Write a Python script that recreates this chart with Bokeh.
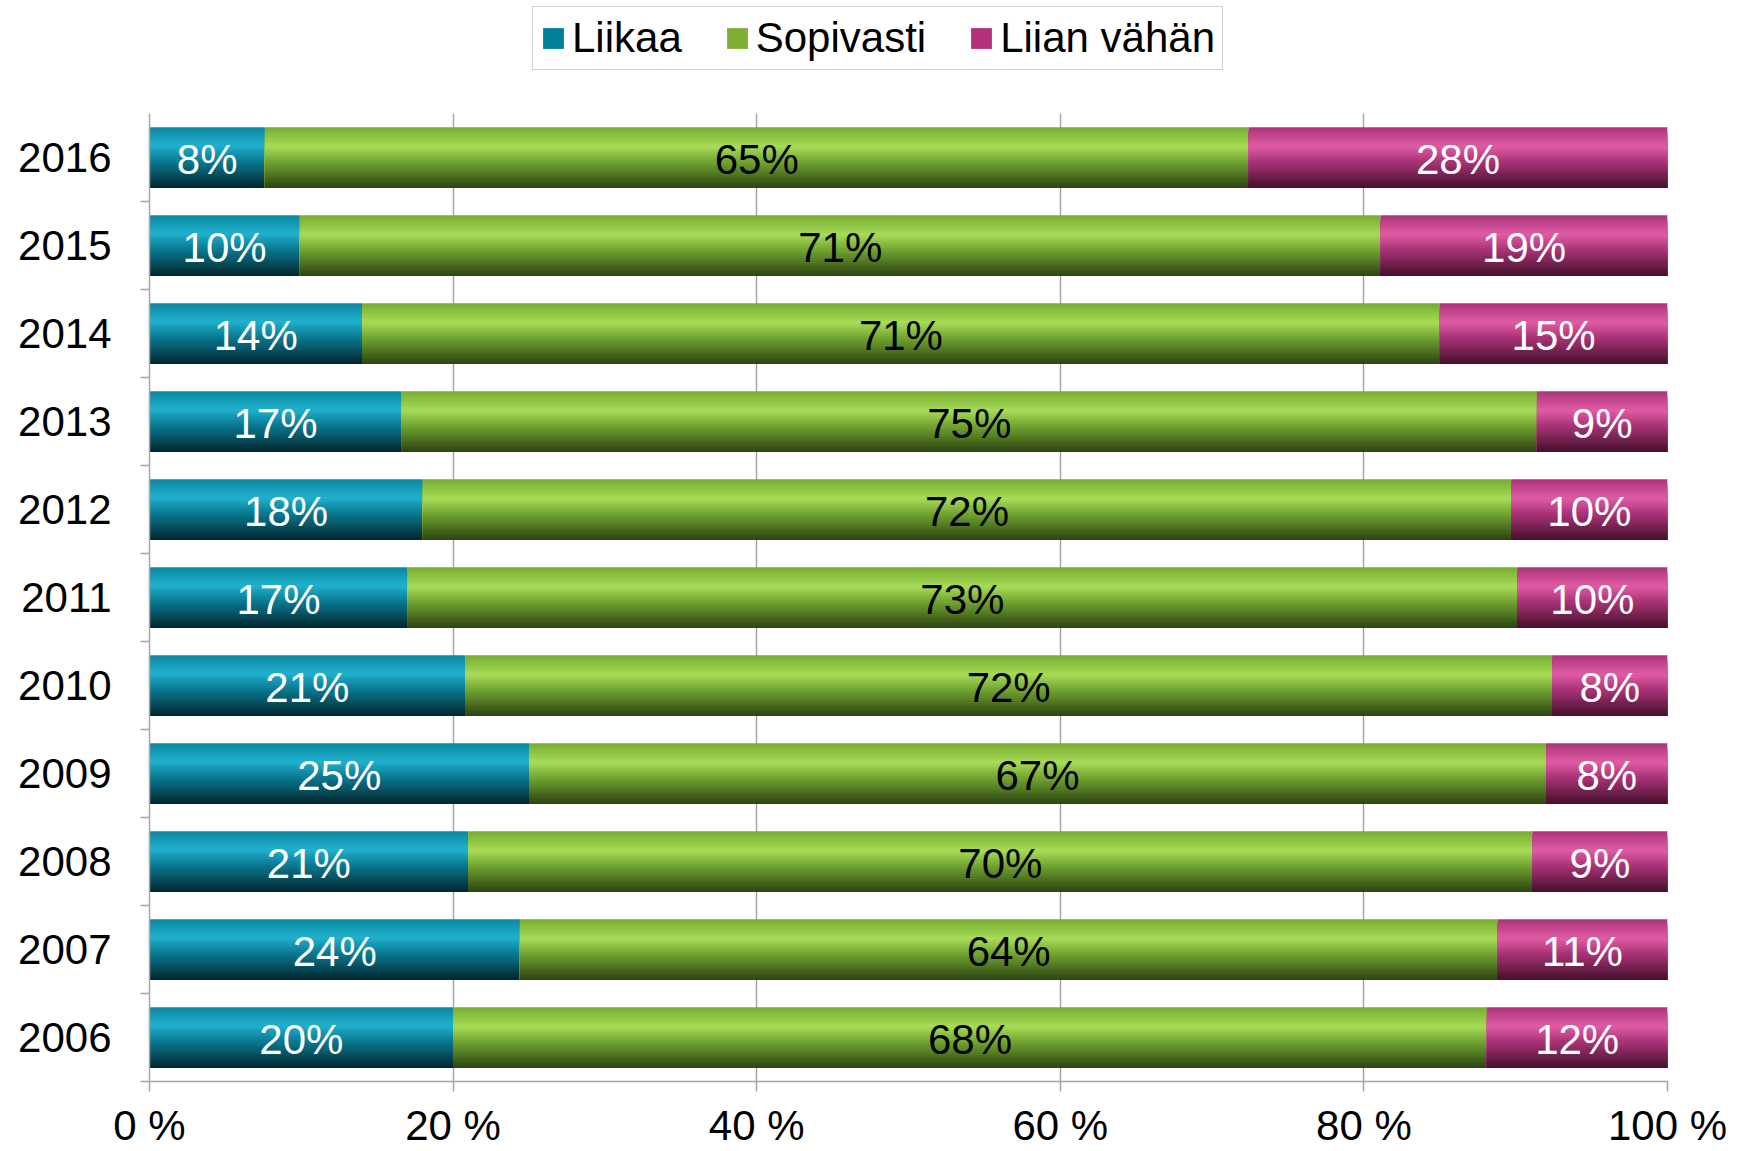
import numpy as np
import pandas as pd
from bokeh.plotting import figure
from bokeh.layouts import column
from bokeh.models import (ColumnDataSource, Range1d, FixedTicker, Legend, LegendItem)
from bokeh.transform import dodge
from bokeh.core.properties import value
from bokeh.embed import file_html
from bokeh.resources import INLINE

# ---- data ----
years = [2016, 2015, 2014, 2013, 2012, 2011, 2010, 2009, 2008, 2007, 2006]
liikaa = [7.6, 9.9, 14.0, 16.6, 18.0, 17.0, 20.8, 25.0, 21.0, 24.4, 20.0]
sopivasti = [64.8, 71.2, 71.0, 74.8, 71.7, 73.1, 71.6, 67.0, 70.1, 64.4, 68.1]
liian_vahan = [27.6, 18.9, 15.0, 8.6, 10.3, 9.9, 7.6, 8.0, 8.9, 11.2, 11.9]
series_names = ["Liikaa", "Sopivasti", "Liian vähän"]
x_ticks = [0, 20, 40, 60, 80, 100]
x_tick_labels = ["0 %", "20 %", "40 %", "60 %", "80 %", "100 %"]

FONT = "Liberation Sans"
FS = "42px"

legend_colors = ["#00819B", "#7EAE33", "#B3307A"]
label_colors = ["white", "black", "white"]
# gradient stops (fraction from top, colour)
gradients = [
    [(0.0, "#0C86A0"), (0.30, "#20B2CF"), (0.55, "#0B7C94"), (1.0, "#03252D")],
    [(0.0, "#77AB31"), (0.32, "#A7DB58"), (0.55, "#76A932"), (1.0, "#2C4310")],
    [(0.0, "#AE3278"), (0.32, "#DF5CA5"), (0.55, "#AE357A"), (1.0, "#42102B")],
]

def hex2rgb(h):
    h = h.lstrip("#")
    return np.array([int(h[i:i + 2], 16) for i in (0, 2, 4)], dtype=float)

def grad_color(stops, t):
    for (t0, c0), (t1, c1) in zip(stops[:-1], stops[1:]):
        if t <= t1:
            f = (t - t0) / (t1 - t0) if t1 > t0 else 0
            c = hex2rgb(c0) * (1 - f) + hex2rgb(c1) * f
            return "#%02x%02x%02x" % tuple(int(round(v)) for v in c)
    return stops[-1][1]

df = pd.DataFrame({"year": years, "Liikaa": liikaa, "Sopivasti": sopivasti,
                   "Liian vähän": liian_vahan})

W, H = 1739, 1151
TOP_H = 111

# ---- legend strip (separate small figure on top) ----
lf = figure(width=W, height=TOP_H, output_backend="svg", toolbar_location=None,
            x_range=Range1d(0, 100), y_range=Range1d(2005.5, 2016.5),
            x_axis_type=None, y_axis_type=None,
            min_border_left=0, min_border_right=0, min_border_top=0, min_border_bottom=0)
lf.outline_line_color = None
lf.xgrid.grid_line_color = None
lf.ygrid.grid_line_color = None

# ---- main chart ----
p = figure(width=W, height=H - TOP_H, output_backend="svg", toolbar_location=None,
           x_range=Range1d(0, 100), y_range=Range1d(2005.5, 2016.5),
           min_border_left=149, min_border_right=72, min_border_top=2,
           min_border_bottom=40)
p.outline_line_color = None
p.background_fill_color = "white"
p.border_fill_color = "white"

BAR_H = 0.69
N = 24
band_h = BAR_H / N

left = np.zeros(len(years))
legend_renderers = []
for i, name in enumerate(series_names):
    vals = df[name].to_numpy()
    right = left + vals
    src = ColumnDataSource(dict(y=df["year"], left=left.copy(), right=right.copy(),
                                xc=(left + right) / 2,
                                lab=[f"{v:.0f}%" for v in vals]))
    # nested bands: each band spans from its own top to the bar bottom
    for k in range(N):
        t = (k + 0.5) / N
        h = BAR_H - k * band_h
        off = -k * band_h / 2
        p.hbar(y=dodge("y", off, range=p.y_range), height=h,
               left="left", right="right", source=src,
               fill_color=grad_color(gradients[i], t), line_color=None)
    r_leg = lf.hbar(y="y", height=BAR_H, left="left", right="right", source=src,
                    fill_color=legend_colors[i], line_color=None, visible=False)
    legend_renderers.append(r_leg)
    p.text(x="xc", y=dodge("y", -0.02, range=p.y_range), text="lab", source=src,
           text_font=value(FONT), text_font_size=FS, text_color=label_colors[i],
           text_align="center", text_baseline="middle")
    left = right

# x axis
xa = p.xaxis[0]
xa.ticker = FixedTicker(ticks=x_ticks)
xa.major_label_overrides = {t: l for t, l in zip(x_ticks, x_tick_labels)}
xa.axis_line_color = "#A6A6A6"
xa.axis_line_width = 1.5
xa.major_tick_line_color = "#A6A6A6"
xa.major_tick_line_width = 1.5
xa.major_tick_out = 10
xa.major_tick_in = 0
xa.minor_tick_line_color = None
xa.major_label_text_font = FONT
xa.major_label_text_font_size = FS
xa.major_label_text_color = "black"
xa.major_label_standoff = 10

# y axis with ticks between categories
boundaries = [y - 0.5 for y in years] + [min(years) - 0.5]
ya = p.yaxis[0]
ya.ticker = FixedTicker(ticks=years, minor_ticks=boundaries)
ya.major_label_overrides = {y: str(y) for y in years}
ya.axis_line_color = "#A6A6A6"
ya.axis_line_width = 1.5
ya.major_tick_line_color = None
ya.major_tick_out = 0
ya.major_tick_in = 0
ya.minor_tick_line_color = "#A6A6A6"
ya.minor_tick_line_width = 1.5
ya.minor_tick_out = 9
ya.minor_tick_in = 0
ya.major_label_text_font = FONT
ya.major_label_text_font_size = FS
ya.major_label_text_color = "black"
ya.major_label_standoff = 29

# grids
p.ygrid.grid_line_color = None
p.xgrid.ticker = FixedTicker(ticks=x_ticks[1:])
p.xgrid.grid_line_color = "#A6A6A6"
p.xgrid.grid_line_width = 1.5
p.xgrid.level = "underlay"

legend = Legend(items=[LegendItem(label=n, renderers=[r]) for n, r in zip(series_names, legend_renderers)],
                orientation="horizontal", location=(383, TOP_H - 8 - 62), margin=0, padding=7,
                spacing=42, glyph_width=26, glyph_height=26, label_standoff=6,
                label_text_font=FONT, label_text_font_size=FS, label_text_color="black",
                border_line_color="#A6A6A6", border_line_width=1.5,
                inactive_fill_alpha=0, background_fill_color="white")
lf.add_layout(legend, "center")

layout = column(lf, p, spacing=0)
open("out.html", "w").write(file_html(layout, INLINE))
